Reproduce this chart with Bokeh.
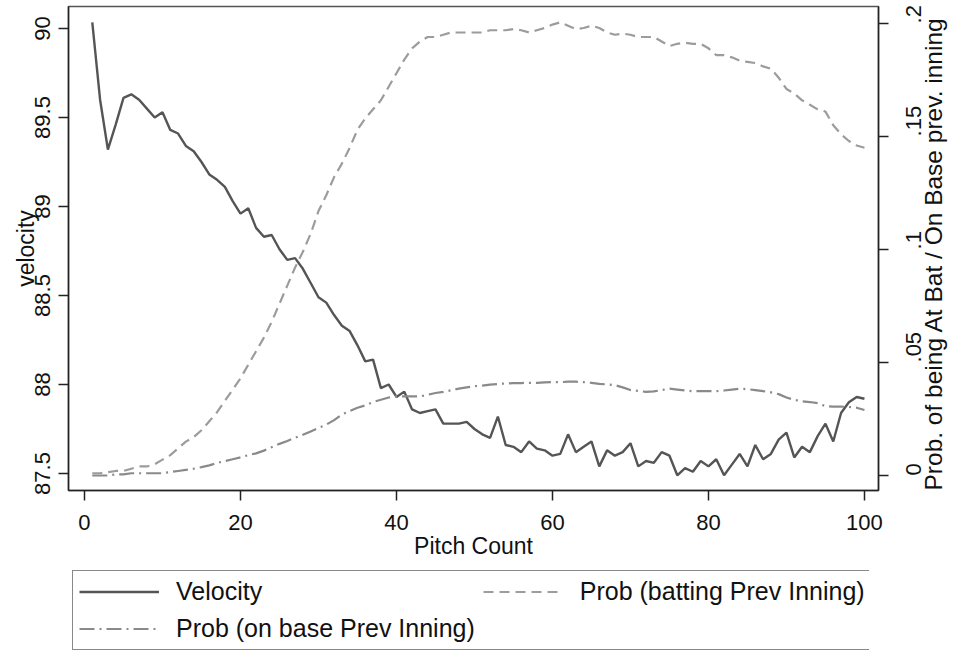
import math
from bokeh.plotting import figure
from bokeh.layouts import column
from bokeh.models import (Range1d, LinearAxis, FixedTicker, Legend, LegendItem)
from bokeh.embed import file_html
from bokeh.resources import INLINE

pitch = list(range(1, 101))

velocity = [
    90.035, 89.60, 89.32, 89.46, 89.61, 89.63, 89.60, 89.55, 89.50, 89.53,
    89.43, 89.41, 89.34, 89.31, 89.25, 89.18, 89.15, 89.11, 89.03, 88.96,
    88.99, 88.88, 88.83, 88.84, 88.76, 88.70, 88.71, 88.65, 88.57, 88.49,
    88.46, 88.39, 88.33, 88.30, 88.22, 88.13, 88.14, 87.98, 88.00, 87.93,
    87.96, 87.86, 87.84, 87.85, 87.86, 87.78, 87.78, 87.78, 87.79, 87.75,
    87.72, 87.70, 87.82, 87.66, 87.65, 87.62, 87.68, 87.64, 87.63, 87.60,
    87.61, 87.72, 87.62, 87.65, 87.68, 87.54, 87.63, 87.60, 87.62, 87.67,
    87.54, 87.57, 87.56, 87.62, 87.60, 87.49, 87.53, 87.51, 87.57, 87.54,
    87.58, 87.49, 87.55, 87.61, 87.54, 87.66, 87.58, 87.61, 87.69, 87.73,
    87.59, 87.65, 87.62, 87.71, 87.78, 87.68, 87.84, 87.90, 87.93, 87.92,
]

prob_batting = [
    0.001, 0.001, 0.0015, 0.002, 0.002, 0.003, 0.004, 0.004, 0.005, 0.007,
    0.009, 0.012, 0.015, 0.017, 0.020, 0.024, 0.028, 0.033, 0.038, 0.043,
    0.049, 0.055, 0.061, 0.068, 0.076, 0.084, 0.092, 0.099, 0.107, 0.117,
    0.124, 0.132, 0.138, 0.145, 0.153, 0.158, 0.162, 0.166, 0.172, 0.178,
    0.184, 0.189, 0.192, 0.194, 0.194, 0.195, 0.196, 0.196, 0.196, 0.196,
    0.196, 0.197, 0.197, 0.197, 0.1975, 0.197, 0.196, 0.197, 0.198, 0.1995,
    0.2005, 0.199, 0.1975, 0.198, 0.199, 0.198, 0.196, 0.195, 0.1955, 0.195,
    0.194, 0.194, 0.194, 0.192, 0.190, 0.191, 0.1915, 0.191, 0.191, 0.189,
    0.186, 0.186, 0.185, 0.1835, 0.183, 0.1825, 0.181, 0.180, 0.176, 0.171,
    0.169, 0.166, 0.164, 0.162, 0.161, 0.155, 0.151, 0.148, 0.146, 0.145,
]

prob_onbase = [
    0.000, 0.000, 0.000, 0.0005, 0.0005, 0.001, 0.001, 0.001, 0.001, 0.001,
    0.0015, 0.002, 0.0025, 0.003, 0.0037, 0.0045, 0.0055, 0.0064, 0.0072, 0.008,
    0.009, 0.0098, 0.011, 0.0125, 0.014, 0.0153, 0.0167, 0.018, 0.0195, 0.021,
    0.0225, 0.0245, 0.027, 0.0285, 0.030, 0.031, 0.0325, 0.0335, 0.0345, 0.035,
    0.035, 0.035, 0.035, 0.0357, 0.0365, 0.037, 0.0377, 0.0384, 0.039, 0.0395,
    0.0398, 0.0402, 0.0405, 0.0407, 0.0409, 0.0409, 0.041, 0.041, 0.0412, 0.0413,
    0.0413, 0.0415, 0.0415, 0.0413, 0.041, 0.0405, 0.0403, 0.040, 0.039, 0.0378,
    0.0374, 0.037, 0.0372, 0.0378, 0.0384, 0.038, 0.0376, 0.0373, 0.0373, 0.0373,
    0.0373, 0.0376, 0.038, 0.0384, 0.0382, 0.0378, 0.0373, 0.0368, 0.036, 0.0345,
    0.0335, 0.0328, 0.0325, 0.032, 0.0307, 0.0305, 0.0305, 0.0303, 0.030, 0.029,
]

x_ticks = [0, 20, 40, 60, 80, 100]
vel_ticks = [87.5, 88, 88.5, 89, 89.5, 90]
vel_tick_labels = ["87.5", "88", "88.5", "89", "89.5", "90"]
prob_ticks = [0, 0.05, 0.1, 0.15, 0.2]
prob_tick_labels = ["0", ".05", ".1", ".15", ".2"]

FONT = "Liberation Sans"
TICK_SIZE = "22px"
LABEL_SIZE = "23px"

p = figure(frame_width=810, frame_height=484,
           x_range=Range1d(-2.05, 101.8), y_range=Range1d(87.4045, 90.1236),
           output_backend="svg", toolbar_location=None,
           min_border_left=68, min_border_right=10, min_border_top=6, min_border_bottom=10,
           background_fill_color="white", border_fill_color="white")
p.grid.visible = False
p.outline_line_color = "#555555"
p.outline_line_width = 1.5

p.extra_y_ranges = {"prob": Range1d(-0.00664, 0.2075)}

def style_axis(ax):
    ax.axis_line_color = "#222222"
    ax.axis_line_width = 1.5
    ax.major_tick_line_color = "#222222"
    ax.major_tick_line_width = 1.5
    ax.major_tick_out = 10
    ax.major_tick_in = 0
    ax.minor_tick_line_color = None
    ax.major_label_text_font = FONT
    ax.major_label_text_font_size = TICK_SIZE
    ax.major_label_text_color = "#111111"
    ax.axis_label_text_font = FONT
    ax.axis_label_text_font_size = LABEL_SIZE
    ax.axis_label_text_font_style = "normal"
    ax.axis_label_text_color = "#111111"

# x axis
xa = p.xaxis[0]
style_axis(xa)
xa.ticker = FixedTicker(ticks=x_ticks)
xa.axis_label = "Pitch Count"
xa.major_label_standoff = 14
xa.axis_label_standoff = 0

# left axis
ya = p.yaxis[0]
style_axis(ya)
ya.ticker = FixedTicker(ticks=vel_ticks)
ya.major_label_overrides = {t: l for t, l in zip(vel_ticks, vel_tick_labels)}
ya.major_label_orientation = "vertical"
ya.major_label_standoff = 8
ya.axis_label = "velocity"
ya.axis_label_standoff = -6

# right axis
ra = LinearAxis(y_range_name="prob")
style_axis(ra)
ra.ticker = FixedTicker(ticks=prob_ticks)
ra.major_label_overrides = {t: l for t, l in zip(prob_ticks, prob_tick_labels)}
ra.major_label_orientation = math.pi / 2
ra.major_label_standoff = 25
ra.axis_label = "Prob. of being At Bat / On Base prev. inning"
ra.axis_label_text_font_size = "24.5px"
ra.axis_label_standoff = 2
ra.axis_label_orientation = math.pi / 2
ra.axis_label_align = "start"
p.add_layout(ra, "right")

VEL_STYLE = dict(line_color="#555555", line_width=2.4)
BAT_STYLE = dict(line_color="#9c9c9c", line_width=2.2, line_dash="10 6")
ON_STYLE = dict(line_color="#8a8a8a", line_width=2.2, line_dash="15 5 2 5")

p.line(pitch, velocity, **VEL_STYLE)
p.line(pitch, prob_batting, y_range_name="prob", **BAT_STYLE)
p.line(pitch, prob_onbase, y_range_name="prob", **ON_STYLE)

# legend strip below the chart (its frame lines up with the chart frame)
lg = figure(width=954, height=92, x_range=Range1d(0, 1), y_range=Range1d(0, 1),
            output_backend="svg", toolbar_location=None,
            x_axis_location=None, y_axis_location=None,
            min_border=0, outline_line_color=None,
            background_fill_color="white", border_fill_color="white")
lg.grid.visible = False
# swatch renderers kept outside the visible range
l_vel = lg.line([5, 6], [5, 6], **VEL_STYLE)
l_bat = lg.line([5, 6], [5, 6], **BAT_STYLE)
l_on = lg.line([5, 6], [5, 6], **ON_STYLE)

legend = Legend(items=[
    LegendItem(label="Velocity", renderers=[l_vel]),
    LegendItem(label="Prob (on base Prev Inning)", renderers=[l_on]),
    LegendItem(label="Prob (batting Prev Inning)", renderers=[l_bat]),
], ncols=2, location=(4, 3),
    glyph_width=80, glyph_height=29, label_standoff=17, label_width=293,
    label_height=29, spacing=8, padding=6, margin=0,
    label_text_font=FONT, label_text_font_size="25px", label_text_color="#111111",
    border_line_color="#111111", border_line_width=1.2,
    background_fill_color="white", background_fill_alpha=1.0)
lg.add_layout(legend, "center")

layout = column(p, lg)
open("out.html", "w").write(file_html(layout, INLINE))
